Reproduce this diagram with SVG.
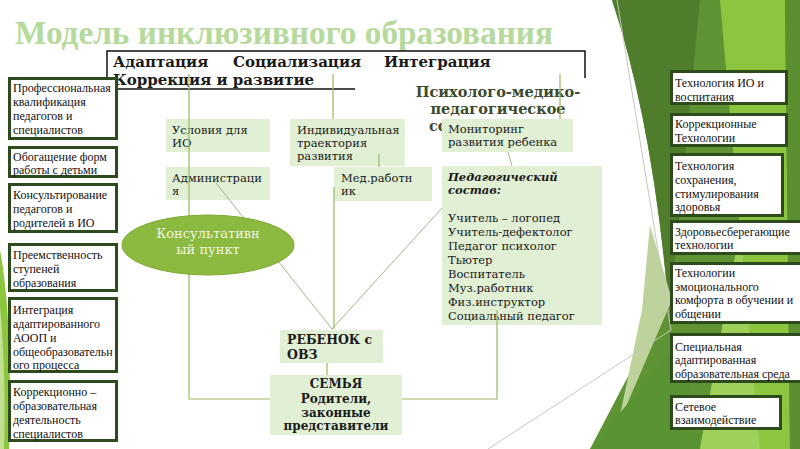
<svg xmlns="http://www.w3.org/2000/svg" width="800" height="449" viewBox="0 0 800 449">
<defs>
<style>
.lb{fill:#ffffff;stroke:#2d4b1c;stroke-width:3}
.lt{font-family:"Liberation Serif",serif;font-size:12px;fill:#111111}
.mb{fill:#e1efd5}
.mt{font-family:"DejaVu Serif",serif;font-size:11.5px;fill:#1a1a1a}
.bt{font-family:"DejaVu Serif",serif;font-weight:bold;fill:#1a1a1a}
.pm{font-family:"DejaVu Serif",serif;font-weight:bold;font-size:14.5px;fill:#3c4a2e}
.cn{stroke:#9bb85f;stroke-width:1.2;fill:none}
.dg{stroke:#a8b48e;stroke-width:1;fill:none}
.gl{stroke:#c4c8bc;stroke-width:1;fill:none}
</style>
</defs>
<rect x="0" y="0" width="800" height="449" fill="#ffffff"/>
<g id="background">
<path d="M612,0 L800,0 L800,449 L590,449 L668,300 Q652,120 612,0 Z" fill="#5f9435"/>
<path d="M612,0 L700,0 L672,290 L668,300 Q652,120 612,0 Z" fill="#4f7d2b"/>
<path d="M720,0 L785,0 L790,449 L700,449 L740,230 Z" fill="#8cc63f"/>
<path d="M785,0 L800,0 L800,449 L790,449 Z" fill="#5b8f30"/>
<path d="M700,449 L740,230 L760,449 Z" fill="#9fd05a"/>
<path d="M650,225 L672,300 L618,425 L642,310 Z" fill="#bdd39b"/>
<path d="M590,449 L682,338 L700,449 Z" fill="#5a9432"/>
<path d="M0,250 Q13,320 9,449 L0,449 Z" fill="#8cc63f"/>
<path d="M0,305 Q6,370 4,449 L0,449 Z" fill="#c2df94"/>
<line x1="617" y1="0" x2="671" y2="330" class="gl"/>
<line x1="671" y1="330" x2="488" y2="449" class="gl"/>
</g>
<text x="15" y="44" font-family="Liberation Serif, serif" font-weight="bold" font-size="33" fill="#b6da9c" textLength="538" lengthAdjust="spacingAndGlyphs">Модель инклюзивного образования</text>
<g id="header">
<path d="M107,92 L107,51 L585,51 L585,78" fill="none" stroke="#111" stroke-width="1.5"/>
<line x1="107" y1="89" x2="355" y2="89" stroke="#111" stroke-width="1.5"/>
<text class="bt" font-size="15" x="113" y="67">Адаптация</text>
<text class="bt" font-size="15" x="233" y="67">Социализация</text>
<text class="bt" font-size="15" x="384" y="67">Интеграция</text>
<text class="bt" font-size="15" x="113" y="85">Коррекция и развитие</text>
</g>
<g id="pmpk">
<text class="pm" x="498" y="97" text-anchor="middle">Психолого-медико-</text>
<text class="pm" x="498" y="114" text-anchor="middle">педагогическое</text>
<text class="pm" x="429" y="131">со</text>
</g>
<g id="usloviya"><rect class="mb" x="166" y="119" width="104" height="33"/>
<text class="mt" x="172" y="134">Условия для</text><text class="mt" x="172" y="147">ИО</text></g>
<g id="administraciya"><rect class="mb" x="166" y="167" width="104" height="33"/>
<text class="mt" x="172" y="182">Администраци</text><text class="mt" x="172" y="195">я</text></g>
<g id="traektoriya"><rect class="mb" x="290" y="119" width="115" height="47"/>
<text class="mt" x="297" y="134">Индивидуальная</text><text class="mt" x="297" y="147">траектория</text><text class="mt" x="297" y="160">развития</text></g>
<g id="medrabotnik"><rect class="mb" x="334" y="167" width="98" height="34"/>
<text class="mt" x="341" y="182">Мед.работн</text><text class="mt" x="341" y="195">ик</text></g>
<g id="monitoring"><rect class="mb" x="442" y="119" width="131" height="33"/>
<text class="mt" x="448" y="133">Мониторинг</text><text class="mt" x="448" y="146">развития ребенка</text></g>
<g id="pedsostav"><rect class="mb" x="442" y="166" width="160" height="159"/>
<text class="mt" x="448" y="181" font-weight="bold" font-style="italic">Педагогический</text>
<text class="mt" x="448" y="194" font-weight="bold" font-style="italic">состав:</text>
<text class="mt" x="448" y="222">Учитель – логопед</text>
<text class="mt" x="448" y="236">Учитель-дефектолог</text>
<text class="mt" x="448" y="250">Педагог психолог</text>
<text class="mt" x="448" y="264">Тьютер</text>
<text class="mt" x="448" y="278">Воспитатель</text>
<text class="mt" x="448" y="292">Муз.работник</text>
<text class="mt" x="448" y="306">Физ.инструктор</text>
<text class="mt" x="448" y="320">Социальный педагог</text></g>
<g id="rebenok"><rect class="mb" x="280" y="330" width="103" height="33"/>
<text class="bt" font-size="12.5" x="287" y="344">РЕБЕНОК с</text><text class="bt" font-size="12.5" x="287" y="359">ОВЗ</text></g>
<g id="semya"><rect class="mb" x="270" y="375" width="132" height="60"/>
<text class="bt" font-size="12" x="336" y="388" text-anchor="middle">СЕМЬЯ</text>
<text class="bt" font-size="12" x="336" y="403" text-anchor="middle">Родители,</text>
<text class="bt" font-size="12" x="336" y="417" text-anchor="middle">законные</text>
<text class="bt" font-size="12" x="336" y="430" text-anchor="middle">представители</text></g>
<g id="connectors">
<polyline class="cn" points="189,74 189,399 270,399"/>
<line class="cn" x1="333" y1="74" x2="333" y2="119"/>
<line class="cn" x1="560" y1="74" x2="560" y2="119"/>
<line class="cn" x1="379" y1="154" x2="379" y2="167"/>
<line class="cn" x1="334" y1="187" x2="334" y2="329"/>
<line class="dg" x1="216" y1="183" x2="332" y2="329"/>
<line class="dg" x1="442" y1="208" x2="332" y2="329"/>
<line class="dg" x1="508" y1="152" x2="512" y2="166"/>
<line class="cn" x1="327" y1="363" x2="327" y2="375"/>
<polyline class="cn" points="402,399 497,399 497,310"/>
</g>
<g id="konsult">
<ellipse cx="208" cy="245" rx="86" ry="30" fill="#8cb93f" stroke="#7fa938" stroke-width="1"/>
<text x="208" y="238" text-anchor="middle" font-family="DejaVu Serif, serif" font-size="13" fill="#eef4e2">Консультативн</text>
<text x="208" y="254" text-anchor="middle" font-family="DejaVu Serif, serif" font-size="13" fill="#eef4e2">ый пункт</text>
</g>
<g id="left1"><rect class="lb" x="9.5" y="78.5" width="107" height="60"/>
<text class="lt" x="13" y="92">Профессиональная</text><text class="lt" x="13" y="106">квалификация</text><text class="lt" x="13" y="120">педагогов и</text><text class="lt" x="13" y="134">специалистов</text></g>
<g id="left2"><rect class="lb" x="9.5" y="147.5" width="107" height="29"/>
<text class="lt" x="13" y="161">Обогащение форм</text><text class="lt" x="13" y="174">работы с детьми</text></g>
<g id="left3"><rect class="lb" x="9.5" y="184.5" width="107" height="47"/>
<text class="lt" x="13" y="199">Консультирование</text><text class="lt" x="13" y="213">педагогов и</text><text class="lt" x="13" y="227">родителей в ИО</text></g>
<g id="left4"><rect class="lb" x="9.5" y="244.5" width="107" height="46"/>
<text class="lt" x="13" y="259">Преемственность</text><text class="lt" x="13" y="273">ступеней</text><text class="lt" x="13" y="287">образования</text></g>
<g id="left5"><rect class="lb" x="9.5" y="298.5" width="107" height="73"/>
<text class="lt" x="13" y="314">Интеграция</text><text class="lt" x="13" y="328">адаптированного</text><text class="lt" x="13" y="342">АООП и</text><text class="lt" x="13" y="356">общеобразовательн</text><text class="lt" x="13" y="369">ого процесса</text></g>
<g id="left6"><rect class="lb" x="9.5" y="381.5" width="107" height="59"/>
<text class="lt" x="13" y="396">Коррекционно –</text><text class="lt" x="13" y="410">образовательная</text><text class="lt" x="13" y="424">деятельность</text><text class="lt" x="13" y="438">специалистов</text></g>
<g id="right1"><rect class="lb" x="671.5" y="71.5" width="115" height="32"/>
<text class="lt" x="675" y="87">Технология ИО и</text><text class="lt" x="675" y="101">воспитания</text></g>
<g id="right2"><rect class="lb" x="671.5" y="114.5" width="115" height="31"/>
<text class="lt" x="675" y="128">Коррекционные</text><text class="lt" x="675" y="142">Технологии</text></g>
<g id="right3"><rect class="lb" x="671.5" y="154.5" width="111" height="61"/>
<text class="lt" x="675" y="170">Технология</text><text class="lt" x="675" y="184">сохранения,</text><text class="lt" x="675" y="198">стимулирования</text><text class="lt" x="675" y="211">здоровья</text></g>
<g id="right4"><rect class="lb" x="671.5" y="221.5" width="140" height="32"/>
<text class="lt" x="675" y="236">Здоровьесберегающие</text><text class="lt" x="675" y="249">технологии</text></g>
<g id="right5"><rect class="lb" x="671.5" y="263.5" width="140" height="59"/>
<text class="lt" x="675" y="277">Технологии</text><text class="lt" x="675" y="291">эмоционального</text><text class="lt" x="675" y="304">комфорта в обучении и</text><text class="lt" x="675" y="318">общении</text></g>
<g id="right6"><rect class="lb" x="671.5" y="334.5" width="140" height="47"/>
<text class="lt" x="675" y="351">Специальная</text><text class="lt" x="675" y="364">адаптированная</text><text class="lt" x="675" y="378">образовательная среда</text></g>
<g id="right7"><rect class="lb" x="671.5" y="396.5" width="109" height="32"/>
<text class="lt" x="675" y="411">Сетевое</text><text class="lt" x="675" y="424">взаимодействие</text></g>
</svg>
